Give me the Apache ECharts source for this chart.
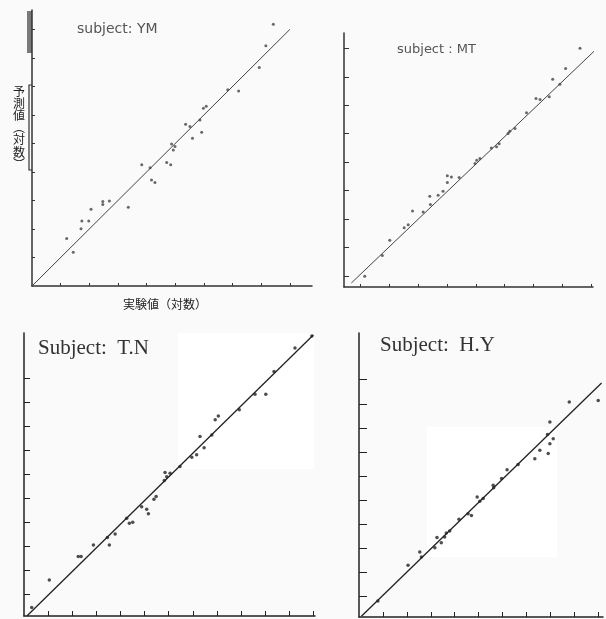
<!DOCTYPE html>
<html>
<head>
<meta charset="utf-8">
<script src="https://cdn.jsdelivr.net/npm/echarts@6/dist/echarts.min.js"></script>
<style>
  html, body { margin: 0; padding: 0; background: #fafafa; }
  #chart { width: 606px; height: 619px; }
</style>
</head>
<body>
<div id="chart"></div>
<script>
// ---- Data (log units; 1 unit = 1 tick interval) ----
const titles = ['subject: YM', 'subject : MT', 'Subject:  T.N', 'Subject:  H.Y'];
const xAxisName = '実験値（対数）';
const yAxisName = ['予', '測', '値', '︵', '対', '数', '︶'];

// subject YM
const ymX = [8.42, 8.16, 7.93, 7.21, 6.83, 5.98, 6.08, 5.86, 5.92, 5.36, 5.51, 5.60, 4.87, 4.99, 4.93, 4.70, 4.84, 3.83, 4.12, 4.17, 4.29, 3.36, 2.47, 2.70, 2.47, 2.06, 1.74, 1.98, 1.71, 1.21, 1.44];
const ymY = [9.18, 8.43, 7.66, 6.84, 6.88, 6.23, 6.30, 5.82, 5.39, 5.67, 5.59, 5.18, 4.98, 4.89, 4.77, 4.33, 4.25, 4.25, 4.15, 3.72, 3.63, 2.76, 2.96, 2.98, 2.86, 2.69, 2.28, 2.28, 2.01, 1.67, 1.18];
const ymLineX = [0, 9.0];
const ymLineY = [0, 9.0];

// subject MT
const mtX = [8.62, 8.12, 7.92, 7.67, 7.55, 7.23, 7.09, 6.76, 6.36, 6.18, 6.12, 5.81, 5.72, 5.54, 5.14, 5.03, 4.97, 4.42, 4.15, 4.01, 4.01, 3.86, 3.69, 3.40, 3.42, 3.17, 2.80, 2.65, 2.51, 2.01, 1.75, 1.14];
const mtY = [9.00, 8.29, 7.74, 7.91, 7.30, 7.20, 7.24, 6.74, 6.18, 6.09, 6.01, 5.65, 5.54, 5.50, 5.13, 5.07, 4.95, 4.46, 4.48, 4.52, 4.28, 3.98, 3.84, 3.80, 3.51, 3.25, 3.28, 2.80, 2.69, 2.25, 1.72, 0.99];
const mtLineX = [0.675, 9.43];
const mtLineY = [0.75, 9.21];

// subject T.N
const tnX = [11.94, 11.24, 10.37, 10.03, 9.58, 8.93, 8.06, 7.93, 7.79, 7.30, 7.47, 7.16, 6.96, 6.47, 6.06, 5.85, 5.92, 5.82, 5.48, 5.39, 5.09, 5.16, 4.88, 4.51, 4.37, 4.26, 3.78, 3.54, 3.46, 2.88, 2.37, 2.25, 1.05, 0.32];
const tnY = [11.68, 11.17, 10.19, 9.25, 9.25, 8.60, 8.34, 8.18, 7.55, 7.48, 7.02, 6.72, 6.62, 6.23, 5.95, 5.98, 5.81, 5.65, 4.98, 4.87, 4.45, 4.26, 4.56, 3.91, 3.87, 4.08, 3.42, 2.96, 3.27, 2.96, 2.48, 2.48, 1.50, 0.35];
const tnLineX = [0.12, 12.0];
const tnLineY = [0, 11.72];

// subject H.Y
const hyX = [10.0, 8.79, 7.98, 7.88, 8.12, 7.98, 7.91, 7.56, 7.35, 6.65, 6.19, 5.96, 5.61, 5.63, 5.19, 4.94, 5.05, 4.70, 4.56, 4.18, 3.79, 3.65, 3.58, 3.26, 3.44, 3.17, 2.54, 2.61, 2.05, 0.79];
const hyY = [9.00, 8.93, 8.10, 7.58, 7.41, 7.20, 6.79, 6.93, 6.58, 6.34, 6.12, 5.75, 5.47, 5.37, 4.92, 4.99, 4.81, 4.22, 4.29, 4.06, 3.57, 3.49, 3.32, 3.30, 3.09, 2.88, 2.70, 2.49, 2.15, 0.66];
const hyLineX = [0.1, 10.14];
const hyLineY = [0.03, 9.72];

// Tick positions
const ymXTicks = [1, 2, 3, 4, 5, 6, 7, 8, 9];
const ymYTicks = [1, 2, 3, 4, 5, 6, 7, 8, 9];
const mtXTicks = [1, 2, 3, 4, 5, 6, 7, 8, 9];
const mtYTicks = [1, 2, 3, 4, 5, 6, 7, 8, 9];
const tnXTicks = [1, 2, 3, 4, 5, 6, 7, 8, 9, 10, 11, 12];
const tnYTicks = [0.91, 1.91, 2.91, 3.91, 4.91, 5.91, 6.91, 7.91, 8.91, 9.91];
const hyXTicks = [1, 2, 3, 4, 5, 6, 7, 8, 9, 10];
const hyYTicks = [0.86, 1.86, 2.86, 3.86, 4.86, 5.86, 6.86, 7.86, 8.86, 9.86];

// ---- Build option ----
const zip = (a, b) => a.map((v, i) => [v, b[i]]);

const panels = [
  { x: ymX, y: ymY, lx: ymLineX, ly: ymLineY, xt: ymXTicks, yt: ymYTicks,
    grid: { left: 32, top: 10, width: 280, height: 276 },
    xr: [0, 9.77], yr: [0, 9.68], tickLen: [3, 3], axisColor: '#333', lineW: 1, sym: 3, col: '#444' },
  { x: mtX, y: mtY, lx: mtLineX, ly: mtLineY, xt: mtXTicks, yt: mtYTicks,
    grid: { left: 344, top: 33, width: 249, height: 254 },
    xr: [0.42, 9.07], yr: [0.61, 9.54], tickLen: [3, 5], axisColor: '#333', lineW: 1, sym: 3, col: '#444' },
  { x: tnX, y: tnY, lx: tnLineX, ly: tnLineY, xt: tnXTicks, yt: tnYTicks,
    grid: { left: 24, top: 333, width: 291, height: 283 },
    xr: [0, 12.07], yr: [0, 11.8], tickLen: [5, 6], axisColor: '#222', lineW: 1.3, sym: 3.5, col: '#222' },
  { x: hyX, y: hyY, lx: hyLineX, ly: hyLineY, xt: hyXTicks, yt: hyYTicks,
    grid: { left: 359, top: 333, width: 244, height: 284 },
    xr: [0, 10.2], yr: [0, 11.8], tickLen: [5, 8], axisColor: '#222', lineW: 1.3, sym: 3.5, col: '#222' }
];

const grid = [], xAxis = [], yAxis = [], series = [];
panels.forEach((p, i) => {
  grid.push(Object.assign({ containLabel: false }, p.grid));
  xAxis.push({
    type: 'value', gridIndex: i, min: p.xr[0], max: p.xr[1],
    axisLine: { show: true, onZero: false, lineStyle: { color: p.axisColor, width: 1.5 } },
    axisTick: { show: true, inside: true, length: p.tickLen[0], customValues: p.xt, lineStyle: { color: p.axisColor, width: 1 } },
    axisLabel: { show: false }, splitLine: { show: false },
    name: i === 0 ? xAxisName : '', nameLocation: 'middle', nameGap: 12,
    nameTextStyle: { fontFamily: 'Noto Sans CJK JP', fontSize: 12, color: '#222', padding: [0, 14, 0, 0] }
  });
  yAxis.push({
    type: 'value', gridIndex: i, min: p.yr[0], max: p.yr[1],
    axisLine: { show: true, onZero: false, lineStyle: { color: p.axisColor, width: 1.5 } },
    axisTick: { show: true, inside: true, length: p.tickLen[1], customValues: p.yt, lineStyle: { color: p.axisColor, width: 1 } },
    axisLabel: { show: false }, splitLine: { show: false }
  });
  series.push({
    type: 'line', xAxisIndex: i, yAxisIndex: i, data: zip(p.lx, p.ly),
    symbol: 'none', clip: false, silent: true,
    lineStyle: { color: p.col, width: p.lineW }, z: 3
  });
  series.push({
    type: 'scatter', xAxisIndex: i, yAxisIndex: i, data: zip(p.x, p.y),
    symbol: 'circle', symbolSize: p.sym, clip: false,
    itemStyle: { color: p.col }, z: 4
  });
});

const title = [
  { text: titles[0], left: 72, top: 17, textStyle: { fontFamily: 'DejaVu Sans', fontSize: 14, fontWeight: 'normal', color: '#555' } },
  { text: titles[1], left: 392, top: 38, textStyle: { fontFamily: 'DejaVu Sans', fontSize: 13, fontWeight: 'normal', color: '#555' } },
  { text: titles[2], left: 33, top: 333, textStyle: { fontFamily: 'Liberation Serif', fontSize: 21, fontWeight: 'normal', color: '#333' } },
  { text: titles[3], left: 375, top: 330, textStyle: { fontFamily: 'Liberation Serif', fontSize: 21, fontWeight: 'normal', color: '#333' } }
];

const graphic = [
  { type: 'rect', shape: { x: 178, y: 333, width: 136, height: 136 }, style: { fill: '#ffffff' }, z: 0 },
  { type: 'rect', shape: { x: 427, y: 427, width: 130, height: 130 }, style: { fill: '#ffffff' }, z: 0 },
  { type: 'rect', shape: { x: 27, y: 11, width: 5, height: 42 }, style: { fill: '#7a7a7a' }, z: 0 },
  { type: 'polyline', shape: { points: [[32, 85], [29, 85], [29, 170], [32, 170]] }, style: { stroke: '#333', lineWidth: 1.2, fill: null }, z: 1 },
  { type: 'text', left: 13, top: 85, style: { text: yAxisName.join('\n'), fontFamily: 'Noto Sans CJK JP', fontSize: 12, lineHeight: 12.2, fill: '#222' }, z: 5 }
];

const chart = echarts.init(document.getElementById('chart'), null, { renderer: 'canvas' });
chart.setOption({ animation: false, backgroundColor: '#fafafa', title, grid, xAxis, yAxis, series, graphic });
</script>
</body>
</html>
